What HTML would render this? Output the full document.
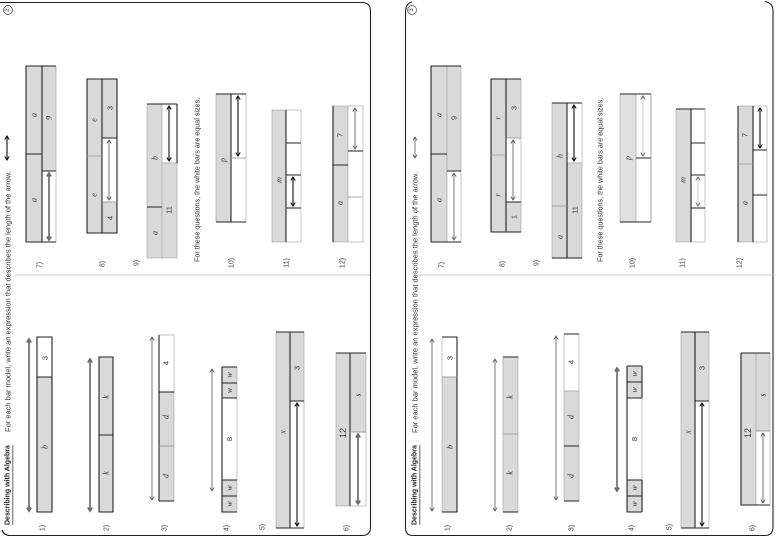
<!DOCTYPE html>
<html><head><meta charset="utf-8">
<style>
html,body{margin:0;padding:0;background:#fff;}
svg{display:block;}
.g{fill:#d9d9d9;stroke:#aaa;stroke-width:.7}
.w{fill:#fff;stroke:#aaa;stroke-width:.7}
.dk{fill:none;stroke:#222;stroke-width:1.1}
.lt{fill:none;stroke:#999;stroke-width:.8}
.ag{fill:none;stroke:#6e6e6e;stroke-width:1.7}
.ab{fill:none;stroke:#111;stroke-width:1.1}
.at{fill:none;stroke:#555;stroke-width:.8}
text{dominant-baseline:central;text-anchor:middle;fill:#333}
.v{font-family:"Liberation Serif",serif;font-style:italic;font-size:8px}
.n{font-family:"Liberation Sans",sans-serif;font-size:7.5px}
.q{font-family:"Liberation Sans",sans-serif;font-size:7px;fill:#444}
.h{font-family:"Liberation Sans",sans-serif;font-size:7.5px;fill:#333;text-anchor:start}
.h2{font-family:"Liberation Sans",sans-serif;font-size:7.2px;fill:#333;text-anchor:start}
.hb{font-family:"Liberation Sans",sans-serif;font-size:7px;font-weight:bold;fill:#222;text-anchor:start;text-decoration:underline}
</style></head>
<body>
<svg width="780" height="540" viewBox="0 0 780 540" xmlns="http://www.w3.org/2000/svg">
<!-- page borders -->
<path class="dk" d="M0,2.5 H362 Q370.5,2.5 370.5,11 V527 Q370.5,535.5 362,535.5 H10 Q4,535.5 2,530"/>
<path class="dk" d="M405.5,528 V12 Q405.5,3.5 412,2"/>
<path class="dk" d="M765,1.5 Q773,3 773,11 V527 Q773,535.5 765,535.5 H413 Q405.5,535.5 405.5,528"/>
<path class="lt" d="M15,275 H370 M420,275 H773" style="stroke:#bbb"/>

<!-- ===== LEFT PAGE ===== -->
<circle cx="8" cy="10" r="4.5" fill="none" stroke="#444" stroke-width=".7"/>
<text class="q" transform="translate(8,10) rotate(-90)" style="font-size:6px">2</text>
<text class="hb" transform="translate(8,525) rotate(-90)">Describing with Algebra</text>
<text class="h" transform="translate(8,432) rotate(-90)">For each bar model, write an expression that describes the length of the arrow.</text>
<path class="ab" d="M7,136 V160 M4.8,139.5 L7,136 L9.2,139.5 M4.8,156.5 L7,160 L9.2,156.5"/>
<text class="h2" transform="translate(197,262) rotate(-90)">For these questions, the white bars are equal sizes.</text>

<text class="q" transform="translate(40,265) rotate(-90)">7)</text>
<text class="q" transform="translate(103,264) rotate(-90)">8)</text>
<text class="q" transform="translate(137,263) rotate(-90)">9)</text>
<text class="q" transform="translate(232,263) rotate(-90)">10)</text>
<text class="q" transform="translate(287,263) rotate(-90)">11)</text>
<text class="q" transform="translate(343,263) rotate(-90)">12)</text>
<text class="q" transform="translate(43,528) rotate(-90)">1)</text>
<text class="q" transform="translate(107,528) rotate(-90)">2)</text>
<text class="q" transform="translate(165,528) rotate(-90)">3)</text>
<text class="q" transform="translate(227,528) rotate(-90)">4)</text>
<text class="q" transform="translate(263,527) rotate(-90)">5)</text>
<text class="q" transform="translate(347,528) rotate(-90)">6)</text>

<!-- 7L -->
<rect x="26" y="66" width="16" height="176" class="g"/>
<rect x="42" y="66" width="14" height="105" class="g"/>
<rect x="42" y="171" width="14" height="71" class="w"/>
<path class="dk" d="M26,66 H56 M26,66 V242 M42,66 V242 M26,242 H56 M26,154 H42 M42,171 H56"/>
<text class="v" transform="translate(34,115) rotate(-90)">a</text>
<text class="v" transform="translate(34,200) rotate(-90)">a</text>
<text class="v" transform="translate(49,118) rotate(-90)">9</text>
<path class="ag" d="M49,173 V240 M46.8,176.5 L49,173 L51.2,176.5 M46.8,236.5 L49,240 L51.2,236.5"/>
<!-- 8L -->
<rect x="87" y="79" width="15" height="154" class="g"/>
<rect x="102" y="79" width="15" height="59" class="g"/>
<rect x="102" y="138" width="15" height="64" class="w"/>
<rect x="102" y="202" width="15" height="31" class="g"/>
<path class="dk" d="M87,79 H117 V233 H87 Z M102,79 V233 M102,138 H117"/>
<path class="lt" d="M87,156 H102 M102,202 H117"/>
<text class="v" transform="translate(94,120) rotate(-90)">e</text>
<text class="v" transform="translate(94,195) rotate(-90)">e</text>
<text class="n" transform="translate(110,108) rotate(-90)">3</text>
<text class="n" transform="translate(110,218) rotate(-90)">4</text>
<path class="at" d="M109,140 V200 M106.8,143.5 L109,140 L111.2,143.5 M106.8,196.5 L109,200 L111.2,196.5"/>
<!-- 9L -->
<rect x="147" y="104" width="15" height="154" class="g"/>
<rect x="162" y="104" width="15" height="59" class="w"/>
<rect x="162" y="163" width="15" height="95" class="g"/>
<path class="dk" d="M147,104 H177 M147,207 H162 M177,104 V163"/>
<text class="v" transform="translate(155,158) rotate(-90)">b</text>
<text class="v" transform="translate(155,233) rotate(-90)">a</text>
<text class="n" transform="translate(169,210) rotate(-90)">11</text>
<path class="ab" d="M169,106 V161 M166.8,109.5 L169,106 L171.2,109.5 M166.8,157.5 L169,161 L171.2,157.5"/>
<!-- 10L -->
<rect x="216" y="94" width="15" height="128" class="g"/>
<rect x="231" y="94" width="15" height="128" class="w"/>
<path class="dk" d="M216,94 H246 M231,94 V222 M216,222 H246"/>
<path class="lt" d="M231,158 H246"/>
<text class="v" transform="translate(223,160) rotate(-90)">p</text>
<path class="ab" d="M238,96 V156 M235.8,99.5 L238,96 L240.2,99.5 M235.8,152.5 L238,156 L240.2,152.5"/>
<!-- 11L -->
<rect x="272" y="110" width="14" height="132" class="g"/>
<rect x="286" y="110" width="15" height="132" class="w"/>
<path class="dk" d="M286,110 V242 M286,143 H301 M286,175 H301 M286,208 H301"/>
<text class="v" transform="translate(279,180) rotate(-90)">m</text>
<path class="ab" d="M293,177 V206 M290.8,180.5 L293,177 L295.2,180.5 M290.8,202.5 L293,206 L295.2,202.5"/>
<!-- 12L -->
<rect x="333" y="106" width="15" height="136" class="g"/>
<rect x="348" y="106" width="15" height="136" class="w"/>
<path class="dk" d="M333,106 V242 M333,165 H348 M348,151 H363"/>
<path class="lt" d="M348,197 H363"/>
<text class="n" transform="translate(340,135) rotate(-90)">7</text>
<text class="v" transform="translate(340,203) rotate(-90)">a</text>
<path class="at" d="M355,108 V149 M352.8,111.5 L355,108 L357.2,111.5 M352.8,145.5 L355,149 L357.2,145.5"/>

<!-- 1L -->
<rect x="37" y="337" width="15" height="40" class="w"/>
<rect x="37" y="377" width="15" height="135" class="g"/>
<path class="dk" d="M37,337 H52 V512 H37 Z M37,377 H52"/>
<text class="n" transform="translate(45,358) rotate(-90)">3</text>
<text class="v" transform="translate(45,447) rotate(-90)">b</text>
<path class="ag" d="M29,339 V511 M26.8,342.5 L29,339 L31.2,342.5 M26.8,507.5 L29,511 L31.2,507.5"/>
<!-- 2L -->
<rect x="99" y="357" width="14" height="155" class="g"/>
<path class="dk" d="M99,357 H113 V512 H99 Z M99,435 H113"/>
<text class="v" transform="translate(106,397) rotate(-90)">k</text>
<text class="v" transform="translate(106,473) rotate(-90)">k</text>
<path class="ag" d="M90,359 V511 M87.8,362.5 L90,359 L92.2,362.5 M87.8,507.5 L90,511 L92.2,507.5"/>
<!-- 3L -->
<rect x="159" y="335" width="15" height="57" class="w"/>
<rect x="159" y="392" width="15" height="54" class="g"/>
<rect x="159" y="446" width="15" height="55" class="g"/>
<path class="dk" d="M159,392 H174 M159,335 V501 M159,501 H174"/>
<path class="lt" d="M159,446 H174"/>
<text class="n" transform="translate(166,363) rotate(-90)">4</text>
<text class="v" transform="translate(166,417) rotate(-90)">d</text>
<text class="v" transform="translate(166,476) rotate(-90)">d</text>
<path class="at" d="M152,337 V500 M149.8,340.5 L152,337 L154.2,340.5 M149.8,496.5 L152,500 L154.2,496.5"/>
<!-- 4L -->
<rect x="222" y="367" width="15" height="16" class="g"/>
<rect x="222" y="383" width="15" height="15" class="g"/>
<rect x="222" y="398" width="15" height="82" class="w"/>
<rect x="222" y="480" width="15" height="16" class="g"/>
<rect x="222" y="496" width="15" height="16" class="g"/>
<path class="dk" d="M222,367 H237 M222,367 V512 H237 M222,383 H237 M222,398 H237 M222,480 H237 M222,496 H237"/>
<text class="v" transform="translate(229.5,375) rotate(-90)">w</text>
<text class="v" transform="translate(229.5,390.5) rotate(-90)">w</text>
<text class="n" transform="translate(229.5,439) rotate(-90)">8</text>
<text class="v" transform="translate(229.5,488) rotate(-90)">w</text>
<text class="v" transform="translate(229.5,504) rotate(-90)">w</text>
<path class="at" d="M212,369 V491 M209.8,372.5 L212,369 L214.2,372.5 M209.8,487.5 L212,491 L214.2,487.5"/>
<!-- 5L -->
<rect x="276" y="332" width="14" height="196" class="g"/>
<rect x="290" y="332" width="14" height="69" class="g"/>
<rect x="290" y="401" width="14" height="127" class="w"/>
<path class="dk" d="M276,332 H304 M290,332 V528 M290,401 H304 M276,528 H304"/>
<text class="v" transform="translate(283,432) rotate(-90)">x</text>
<text class="n" transform="translate(297,368) rotate(-90)">3</text>
<path class="ab" d="M297,403 V526 M294.8,406.5 L297,403 L299.2,406.5 M294.8,522.5 L297,526 L299.2,522.5"/>
<!-- 6L -->
<rect x="336" y="353" width="14" height="153" class="g"/>
<rect x="350" y="353" width="16" height="79" class="g"/>
<rect x="350" y="432" width="16" height="74" class="w"/>
<path class="dk" d="M336,353 H366 M350,353 V506"/>
<path class="lt" d="M350,432 H366"/>
<text class="n" transform="translate(343,433) rotate(-90)" style="font-size:9px">12</text>
<text class="v" transform="translate(358,395) rotate(-90)">s</text>
<path class="ag" d="M358,434 V504 M355.8,437.5 L358,434 L360.2,437.5 M355.8,500.5 L358,504 L360.2,500.5"/>

<!-- ===== RIGHT PAGE ===== -->
<circle cx="412" cy="10" r="4.5" fill="none" stroke="#444" stroke-width=".7"/>
<text class="q" transform="translate(412,10) rotate(-90)" style="font-size:6px">3</text>
<g transform="translate(405,0)">
<text class="hb" transform="translate(10,525) rotate(-90)">Describing with Algebra</text>
<text class="h" transform="translate(10,433) rotate(-90)">For each bar model, write an expression that describes the length of the arrow.</text>
<path class="at" d="M10,137 V158 M7.8,140.5 L10,137 L12.2,140.5 M7.8,154.5 L10,158 L12.2,154.5"/>
<text class="h2" transform="translate(195,262) rotate(-90)">For these questions, the white bars are equal sizes.</text>

<text class="q" transform="translate(37,265) rotate(-90)">7)</text>
<text class="q" transform="translate(98,264) rotate(-90)">8)</text>
<text class="q" transform="translate(132,263) rotate(-90)">9)</text>
<text class="q" transform="translate(228,263) rotate(-90)">10)</text>
<text class="q" transform="translate(278,263) rotate(-90)">11)</text>
<text class="q" transform="translate(335,263) rotate(-90)">12)</text>
<text class="q" transform="translate(43,528) rotate(-90)">1)</text>
<text class="q" transform="translate(105,528) rotate(-90)">2)</text>
<text class="q" transform="translate(167,528) rotate(-90)">3)</text>
<text class="q" transform="translate(227,528) rotate(-90)">4)</text>
<text class="q" transform="translate(265,527) rotate(-90)">5)</text>
<text class="q" transform="translate(348,528) rotate(-90)">6)</text>

<!-- 7R -->
<rect x="26" y="66" width="16" height="176" class="g"/>
<rect x="42" y="66" width="14" height="105" class="g"/>
<rect x="42" y="171" width="14" height="71" class="w"/>
<path class="dk" d="M26,66 H56 M26,66 V242 M26,242 H56 M26,154 H42 M42,171 H56"/>
<text class="v" transform="translate(34,115) rotate(-90)">a</text>
<text class="v" transform="translate(34,200) rotate(-90)">a</text>
<text class="n" transform="translate(49,118) rotate(-90)">9</text>
<path class="at" d="M49,173 V240 M46.8,176.5 L49,173 L51.2,176.5 M46.8,236.5 L49,240 L51.2,236.5"/>
<!-- 8R -->
<rect x="86" y="79" width="15" height="153" class="g"/>
<rect x="101" y="79" width="15" height="59" class="g"/>
<rect x="101" y="138" width="15" height="64" class="w"/>
<rect x="101" y="202" width="15" height="30" class="g"/>
<path class="dk" d="M86,79 H116 M86,79 V232 H116 M101,79 V232 M101,202 H116"/>
<path class="lt" d="M86,155 H101 M101,138 H116"/>
<text class="v" transform="translate(93,118) rotate(-90)">r</text>
<text class="v" transform="translate(93,195) rotate(-90)">r</text>
<text class="n" transform="translate(109,108) rotate(-90)">3</text>
<text class="n" transform="translate(109,217) rotate(-90)">1</text>
<path class="at" d="M108,140 V200 M105.8,143.5 L108,140 L110.2,143.5 M105.8,196.5 L108,200 L110.2,196.5"/>
<!-- 9R -->
<rect x="147" y="103" width="15" height="155" class="g"/>
<rect x="162" y="103" width="15" height="60" class="w"/>
<rect x="162" y="163" width="15" height="95" class="g"/>
<path class="dk" d="M147,103 H177 M162,103 V258 M147,258 H177"/>
<path class="lt" d="M147,206 H162"/>
<text class="v" transform="translate(155,156) rotate(-90)">h</text>
<text class="v" transform="translate(155,237) rotate(-90)">a</text>
<text class="n" transform="translate(170,210) rotate(-90)">11</text>
<path class="ab" d="M169,105 V161 M166.8,108.5 L169,105 L171.2,108.5 M166.8,157.5 L169,161 L171.2,157.5"/>
<!-- 10R -->
<rect x="215" y="94" width="16" height="128" class="g" style="fill:#e0e0e0"/>
<rect x="231" y="94" width="15" height="128" class="w"/>
<path class="dk" d="M215,94 H246 M215,222 H246 M231,158 H246"/>
<path class="lt" d="M246,94 V222"/>
<text class="v" transform="translate(223,158) rotate(-90)">p</text>
<path class="at" d="M238,96 V156" style="stroke:#bbb"/>
<path class="at" d="M235.8,99.5 L238,96 L240.2,99.5 M235.8,152.5 L238,156 L240.2,152.5"/>
<!-- 11R -->
<rect x="271" y="109" width="15" height="133" class="g"/>
<rect x="286" y="109" width="14" height="133" class="w"/>
<path class="dk" d="M271,109 H300 M286,109 V242 M286,143 H300 M286,175 H300 M286,208 H300"/>
<text class="v" transform="translate(278,180) rotate(-90)">m</text>
<path class="at" d="M293,177 V206" style="stroke:#bbb"/>
<path class="at" d="M290.8,180.5 L293,177 L295.2,180.5 M290.8,202.5 L293,206 L295.2,202.5"/>
<!-- 12R -->
<rect x="333" y="106" width="15" height="136" class="g"/>
<rect x="348" y="106" width="14" height="136" class="w"/>
<path class="dk" d="M333,106 V242 M348,106 V242 M348,150 H362 M348,195 H362"/>
<path class="lt" d="M333,164 H348"/>
<text class="n" transform="translate(340,135) rotate(-90)">7</text>
<text class="v" transform="translate(340,203) rotate(-90)">a</text>
<path class="ab" d="M355,108 V148 M352.8,111.5 L355,108 L357.2,111.5 M352.8,144.5 L355,148 L357.2,144.5"/>

<!-- 1R -->
<rect x="37" y="337" width="15" height="40" class="w"/>
<rect x="37" y="377" width="15" height="135" class="g"/>
<path class="dk" d="M37,337 H52 V512 H37"/>
<path class="lt" d="M37,377 H52"/>
<text class="n" transform="translate(45,358) rotate(-90)">3</text>
<text class="v" transform="translate(45,447) rotate(-90)">b</text>
<path class="at" d="M27,339 V511 M24.8,342.5 L27,339 L29.2,342.5 M24.8,507.5 L27,511 L29.2,507.5"/>
<!-- 2R -->
<rect x="98" y="357" width="15" height="155" class="g"/>
<path class="dk" d="M98,357 H113 M98,512 H113"/>
<path class="lt" d="M98,434 H113"/>
<text class="v" transform="translate(105,397) rotate(-90)">k</text>
<text class="v" transform="translate(105,473) rotate(-90)">k</text>
<path class="at" d="M90,359 V511 M87.8,362.5 L90,359 L92.2,362.5 M87.8,507.5 L90,511 L92.2,507.5"/>
<!-- 3R -->
<rect x="159" y="334" width="15" height="57" class="w"/>
<rect x="159" y="391" width="15" height="55" class="g"/>
<rect x="159" y="446" width="15" height="55" class="g"/>
<path class="dk" d="M159,334 H174 M159,446 H174 M159,501 H174"/>
<text class="n" transform="translate(166,362) rotate(-90)">4</text>
<text class="v" transform="translate(166,417) rotate(-90)">d</text>
<text class="v" transform="translate(166,476) rotate(-90)">d</text>
<path class="at" d="M151,336 V500 M148.8,339.5 L151,336 L153.2,339.5 M148.8,496.5 L151,500 L153.2,496.5"/>
<!-- 4R -->
<rect x="222" y="366" width="15" height="16" class="g"/>
<rect x="222" y="382" width="15" height="16" class="g"/>
<rect x="222" y="398" width="15" height="82" class="w"/>
<rect x="222" y="480" width="15" height="16" class="g"/>
<rect x="222" y="496" width="15" height="16" class="g"/>
<path class="dk" d="M222,366 H237 M222,366 V512 H237 M237,366 V398 M237,480 V512 M222,382 H237 M222,398 H237 M222,480 H237 M222,496 H237"/>
<text class="v" transform="translate(229.5,374) rotate(-90)">w</text>
<text class="v" transform="translate(229.5,390) rotate(-90)">w</text>
<text class="n" transform="translate(229.5,439) rotate(-90)">8</text>
<text class="v" transform="translate(229.5,488) rotate(-90)">w</text>
<text class="v" transform="translate(229.5,504) rotate(-90)">w</text>
<path class="ag" d="M212,368 V491 M209.8,371.5 L212,368 L214.2,371.5 M209.8,487.5 L212,491 L214.2,487.5"/>
<!-- 5R -->
<rect x="276" y="332" width="14" height="196" class="g"/>
<rect x="290" y="332" width="14" height="69" class="g"/>
<rect x="290" y="401" width="14" height="127" class="w"/>
<path class="dk" d="M276,332 H304 M290,332 V528 M290,401 H304 M276,528 H304"/>
<text class="v" transform="translate(283,432) rotate(-90)">x</text>
<text class="n" transform="translate(297,368) rotate(-90)">3</text>
<path class="ab" d="M297,403 V526 M294.8,406.5 L297,403 L299.2,406.5 M294.8,522.5 L297,526 L299.2,522.5"/>
<!-- 6R -->
<rect x="336" y="353" width="15" height="152" class="g"/>
<rect x="351" y="353" width="14" height="78" class="g"/>
<rect x="351" y="431" width="14" height="74" class="w"/>
<path class="dk" d="M336,353 H365 M336,353 V505 H365"/>
<path class="lt" d="M351,431 H365"/>
<text class="n" transform="translate(343,433) rotate(-90)" style="font-size:9px">12</text>
<text class="v" transform="translate(358,395) rotate(-90)">s</text>
<path class="at" d="M358,433 V503 M355.8,436.5 L358,433 L360.2,436.5 M355.8,499.5 L358,503 L360.2,499.5"/>
</g>
</svg>
</body></html>
